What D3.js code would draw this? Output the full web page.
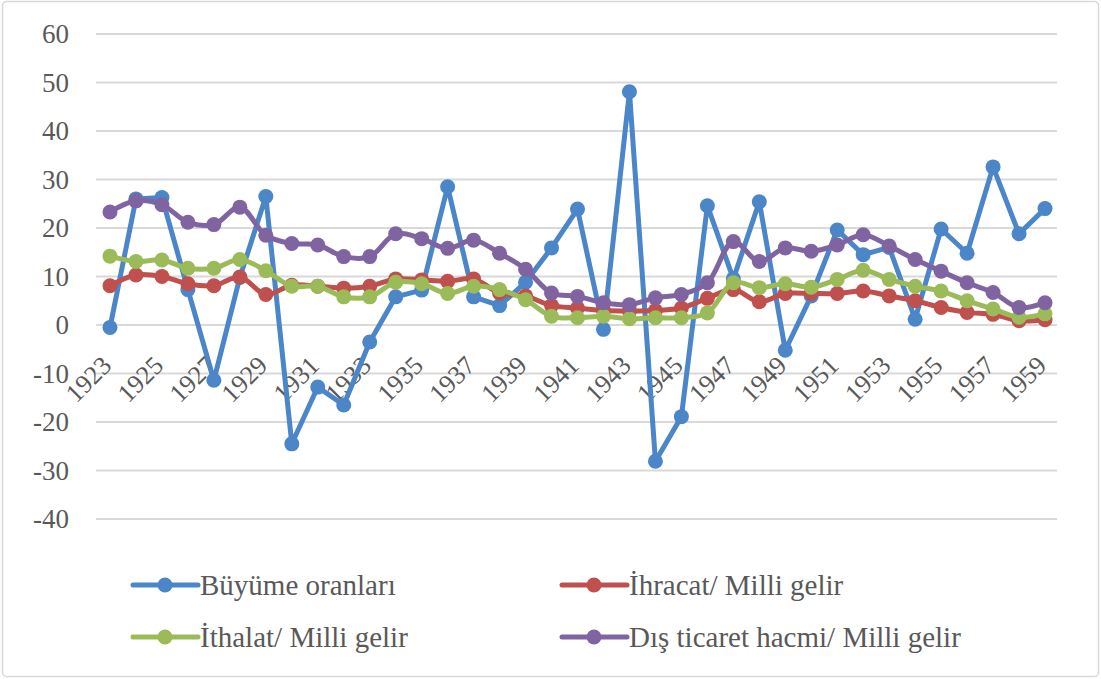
<!DOCTYPE html>
<html>
<head>
<meta charset="utf-8">
<script src="https://cdn.jsdelivr.net/npm/d3@7"></script>
<style>
  body { margin: 0; background: #fff; }
  svg { display: block; }
</style>
</head>
<body>
<div id="container"></div>
<script>
// years 1923 - 1959
const years = d3.range(1923, 1960);
const buyume = [-0.5, 26.0, 26.3, 7.3, -11.4, 9.8, 26.5, -24.5, -12.8, -16.5, -3.5, 5.8, 7.2, 28.5, 5.8, 4.0, 8.8, 15.9, 23.9, -0.9, 48.1, -28.1, -18.9, 24.6, 9.5, 25.4, -5.2, 6.0, 19.6, 14.5, 16.0, 1.2, 19.8, 14.8, 32.6, 18.8, 24.0];
const ihracat = [8.1, 10.3, 10.0, 8.5, 8.1, 9.9, 6.3, 8.2, 8.0, 7.6, 8.0, 9.5, 9.3, 9.0, 9.5, 6.6, 6.0, 4.0, 3.5, 3.0, 2.9, 3.0, 3.5, 5.5, 7.3, 4.8, 6.5, 6.5, 6.5, 7.0, 6.0, 5.0, 3.6, 2.6, 2.2, 0.9, 1.1];
const ithalat = [14.2, 13.1, 13.4, 11.7, 11.7, 13.5, 11.2, 8.0, 8.0, 5.8, 5.8, 8.8, 8.5, 6.5, 8.0, 7.3, 5.2, 1.8, 1.5, 1.8, 1.3, 1.5, 1.5, 2.5, 8.7, 7.7, 8.5, 7.8, 9.4, 11.3, 9.4, 8.0, 7.0, 5.0, 3.3, 1.6, 2.3];
const disTicaret = [23.3, 25.6, 24.8, 21.2, 20.7, 24.3, 18.5, 16.8, 16.5, 14.1, 14.1, 18.8, 17.8, 15.8, 17.5, 14.8, 11.5, 6.6, 5.9, 4.6, 4.2, 5.6, 6.3, 8.7, 17.2, 13.1, 15.9, 15.2, 16.5, 18.6, 16.3, 13.5, 11.1, 8.7, 6.7, 3.6, 4.6];
const seriesNames = ["Büyüme oranları", "İhracat/ Milli gelir", "İthalat/ Milli gelir", "Dış ticaret hacmi/ Milli gelir"];
const yTicks = [-40, -30, -20, -10, 0, 10, 20, 30, 40, 50, 60];

const colors = ["#4a86c8", "#c0504d", "#9bbb59", "#8064a2"];
const smooth = [false, true, true, true];
const allSeries = [buyume, ihracat, ithalat, disTicaret];

const width = 1101, height = 679;
const serif = "Liberation Serif";

let svg = d3.select("#container").append("svg")
  .attr("width", width).attr("height", height);

svg.append("rect")
  .attr("x", 2.5).attr("y", 1.5)
  .attr("width", width - 5).attr("height", height - 4)
  .attr("rx", 4)
  .attr("fill", "#fff").attr("stroke", "#d9d9d9").attr("stroke-width", 1.5);

let x = d3.scaleBand().domain(years).range([97, 1058]);
let y = d3.scaleLinear().domain([-40, 60]).range([519, 34]);
let cx = (d) => x(d) + x.bandwidth() / 2;

// gridlines
svg.append("g")
  .selectAll("line")
  .data(yTicks)
  .join("line")
  .attr("x1", 96).attr("x2", 1057)
  .attr("y1", (d) => y(d)).attr("y2", (d) => y(d))
  .attr("stroke", "#d9d9d9").attr("stroke-width", 2);

// y labels
svg.append("g")
  .selectAll("text")
  .data(yTicks)
  .join("text")
  .attr("x", 69).attr("y", (d) => y(d))
  .attr("dy", "0.35em")
  .attr("text-anchor", "end")
  .attr("font-family", serif)
  .attr("font-size", 27)
  .attr("fill", "#595959")
  .text((d) => d);

// x labels, every second year
svg.append("g")
  .selectAll("text")
  .data(years.filter((d, i) => i % 2 === 0))
  .join("text")
  .attr("transform", (d) => `translate(${cx(d) + 3},${y(0) + 42}) rotate(-45)`)
  .attr("text-anchor", "end")
  .attr("font-family", serif)
  .attr("font-size", 26)
  .attr("fill", "#595959")
  .text((d) => d);

// series
allSeries.forEach((vals, i) => {
  let line = d3.line()
    .x((d, j) => cx(years[j]))
    .y((d) => y(d))
    .curve(smooth[i] ? d3.curveCatmullRom : d3.curveLinear);
  let g = svg.append("g");
  g.append("path")
    .attr("d", line(vals))
    .attr("fill", "none")
    .attr("stroke", colors[i])
    .attr("stroke-width", 5)
    .attr("stroke-linejoin", "round");
  g.selectAll("circle")
    .data(vals)
    .join("circle")
    .attr("cx", (d, j) => cx(years[j]))
    .attr("cy", (d) => y(d))
    .attr("r", 7.5)
    .attr("fill", colors[i]);
});

// legend
const legendPos = [[133, 585], [562, 585], [133, 637], [562, 637]];
seriesNames.forEach((name, i) => {
  let [lx, ly] = legendPos[i];
  let g = svg.append("g");
  g.append("line")
    .attr("x1", lx).attr("x2", lx + 65)
    .attr("y1", ly).attr("y2", ly)
    .attr("stroke", colors[i]).attr("stroke-width", 5)
    .attr("stroke-linecap", "round");
  g.append("circle")
    .attr("cx", lx + 32).attr("cy", ly).attr("r", 7.5)
    .attr("fill", colors[i]);
  g.append("text")
    .attr("x", lx + 67).attr("y", ly)
    .attr("dy", "0.35em")
    .attr("font-family", serif)
    .attr("font-size", 29)
    .attr("fill", "#595959")
    .text(name);
});
</script>
</body>
</html>
